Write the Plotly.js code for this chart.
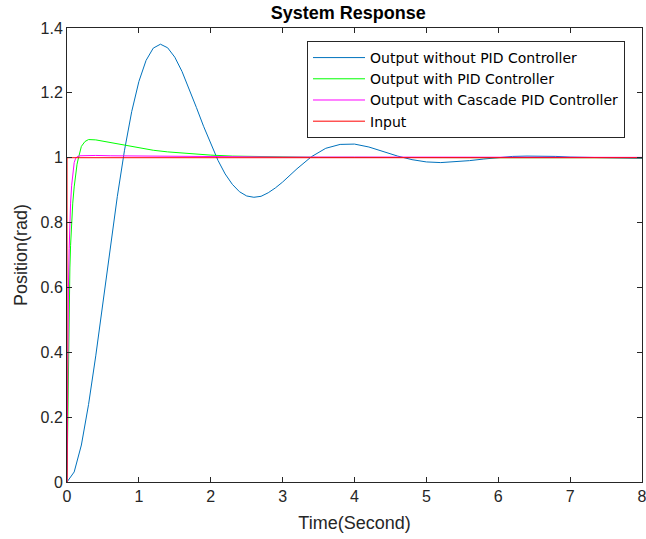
<!DOCTYPE html>
<html>
<head>
<meta charset="utf-8">
<script src="https://cdn.plot.ly/plotly-3.0.1.min.js"></script>
<style>
html,body{margin:0;padding:0;background:#fff;}
#chart{width:646px;height:539px;}
</style>
</head>
<body>
<div id="chart"></div>
<script>
// Output without PID Controller (blue)
const tBlue = [0,0.1,0.2,0.3,0.4,0.5,0.6,0.7,0.8,0.9,1.0,1.1,1.2,1.3,1.4,1.5,1.6,1.7,1.8,1.9,2.0,2.1,2.2,2.3,2.4,2.5,2.6,2.7,2.8,2.9,3.0,3.2,3.4,3.6,3.8,4.0,4.2,4.4,4.6,4.8,5.0,5.2,5.4,5.6,5.8,6.0,6.2,6.4,6.6,6.8,7.0,7.2,7.4,7.6,7.8,8.0];
const yBlue = [0,0.031,0.114,0.239,0.389,0.554,0.721,0.880,1.023,1.142,1.235,1.300,1.338,1.350,1.339,1.310,1.266,1.213,1.155,1.097,1.042,0.992,0.950,0.918,0.895,0.882,0.878,0.881,0.892,0.907,0.925,0.966,1.003,1.029,1.041,1.042,1.033,1.019,1.005,0.994,0.987,0.985,0.987,0.991,0.996,1.000,1.004,1.005,1.005,1.004,1.002,1.001,0.999,0.998,0.998,0.998];

// Output with PID Controller (green)
const tGreen = [0,0.01,0.02,0.03,0.04,0.05,0.065,0.08,0.1,0.12,0.14,0.16,0.2,0.25,0.3,0.4,0.5,0.6,0.8,1.0,1.2,1.4,1.6,1.8,2.0,2.3,2.6,3.0,3.5,4.0,5.0,6.0,8.0];
const yGreen = [0,0.22,0.40,0.55,0.66,0.73,0.80,0.86,0.91,0.95,0.98,1.0,1.035,1.05,1.056,1.055,1.051,1.047,1.037,1.029,1.023,1.018,1.014,1.011,1.008,1.005,1.004,1.002,1.001,1.001,1.0,1.0,1.0];

// Output with Cascade PID Controller (magenta)
const tMag = [0,0.005,0.01,0.02,0.03,0.04,0.05,0.065,0.08,0.1,0.12,0.14,0.18,0.25,0.4,0.6,1.0,1.5,2.0,3.0,4.0,6.0,8.0];
const yMag = [0,0.2,0.38,0.6,0.72,0.80,0.86,0.915,0.955,0.985,0.998,1.003,1.006,1.007,1.007,1.006,1.005,1.004,1.003,1.002,1.002,1.001,1.001];

// Input (step)
const tIn = [0,0,8];
const yIn = [0,1,1];

const names = ['Output without PID Controller','Output with PID Controller','Output with Cascade PID Controller','Input'];
const colors = ['#0072BD','#00FF00','#FF00FF','#FF0000'];

const xTicks = [0,1,2,3,4,5,6,7,8];
const yTicks = [0,0.2,0.4,0.6,0.8,1,1.2,1.4];
const yTickText = ['0','0.2','0.4','0.6','0.8','1','1.2','1.4'];

const series = [[tBlue,yBlue],[tGreen,yGreen],[tMag,yMag],[tIn,yIn]];
const traces = series.map((s,i)=>({
  x:s[0], y:s[1], type:'scatter', mode:'lines', name:names[i],
  line:{color:colors[i], width:1}
}));

const axCommon = {
  showgrid:false, zeroline:false, showline:true, linecolor:'#262626', linewidth:1,
  mirror:'ticks', ticks:'inside', ticklen:5, tickcolor:'#262626', tickwidth:1,
  ticklabeloverflow:'allow',
  tickfont:{family:'Liberation Sans, Arial, sans-serif', size:16, color:'#262626'}
};

const layout = {
  width:646, height:539,
  margin:{l:67, r:4, t:28, b:57},
  paper_bgcolor:'#fff', plot_bgcolor:'#fff',
  font:{family:'Liberation Sans, Arial, sans-serif', color:'#262626'},
  title:{text:'<b>System Response</b>', x:0.539, xanchor:'center', y:0.988, yanchor:'top',
    font:{size:18, color:'#000', family:'Liberation Sans, Arial, sans-serif'}},
  xaxis:Object.assign({}, axCommon, {range:[0,8], tickvals:xTicks, ticktext:xTicks.map(String),
    title:{text:'Time(Second)', font:{size:18, color:'#262626'}, standoff:12}}),
  yaxis:Object.assign({}, axCommon, {range:[0,1.4], tickvals:yTicks, ticktext:yTickText,
    title:{text:'Position(rad)', font:{size:18, color:'#262626'}, standoff:8}}),
  showlegend:true,
  legend:{x:0.4174, xanchor:'left', y:0.9714, yanchor:'top', bgcolor:'#fff',
    bordercolor:'#262626', borderwidth:1,
    font:{size:14, color:'#000', family:'DejaVu Sans, Liberation Sans, sans-serif'}, itemwidth:52,
    tracegroupgap:0}
};

Plotly.newPlot('chart', traces, layout, {displayModeBar:false, staticPlot:true});
</script>
</body>
</html>
